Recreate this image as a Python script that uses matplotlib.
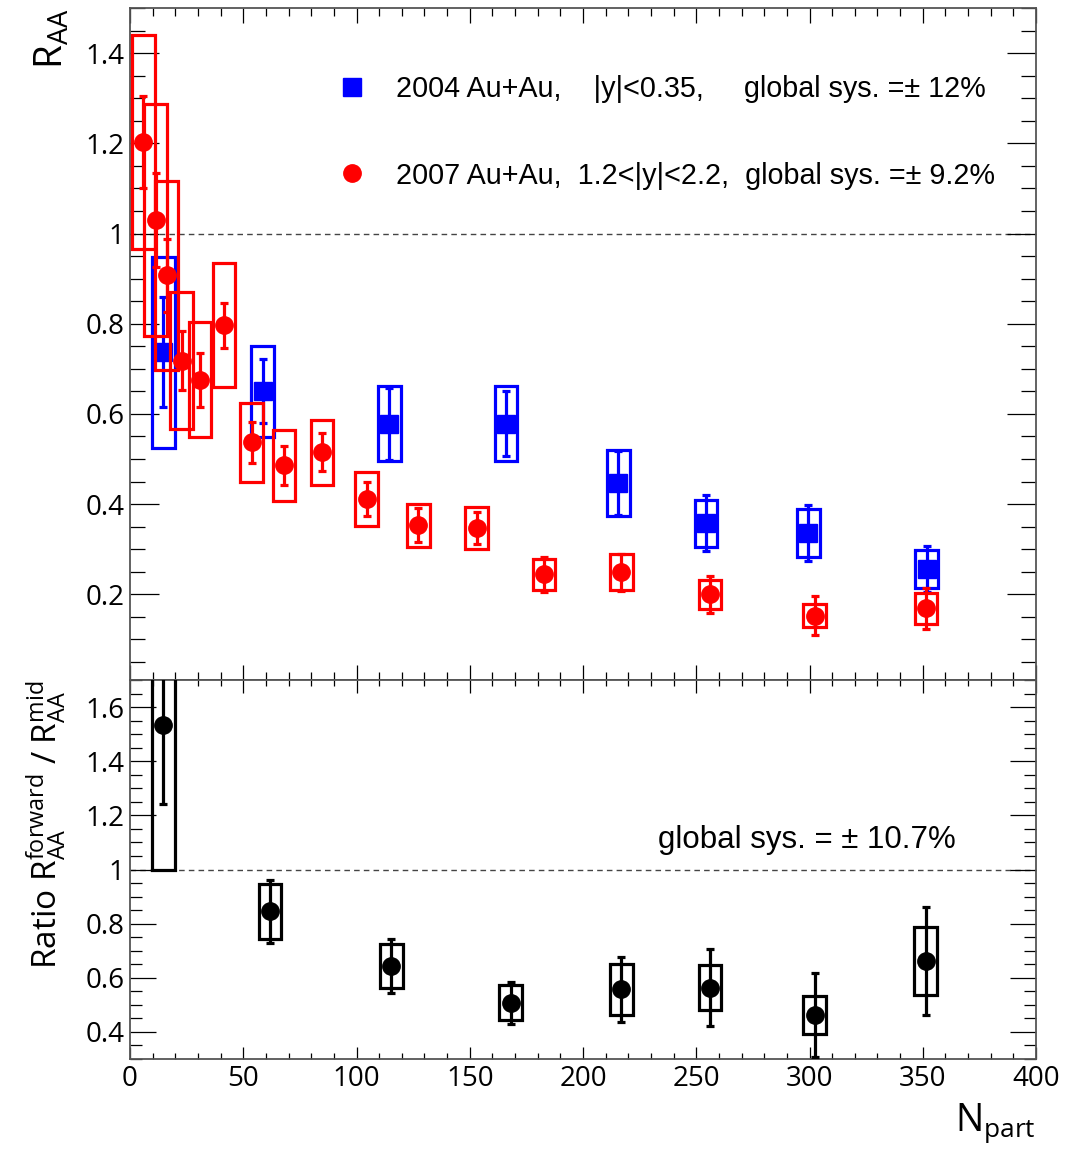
import matplotlib
matplotlib.use("Agg")
import matplotlib.pyplot as plt
from matplotlib.ticker import MultipleLocator

# ---- data -------------------------------------------------------------
# 2007 Au+Au, forward rapidity 1.2<|y|<2.2
red_npart = [5.9, 11.3, 16.2, 22.8, 30.9, 41.5, 53.7, 68.0, 84.8, 104.5,
             127.3, 153.0, 182.8, 216.9, 256.0, 302.3, 351.4]
red_raa = [1.203, 1.030, 0.907, 0.718, 0.676, 0.797, 0.537, 0.486, 0.515,
           0.411, 0.353, 0.347, 0.244, 0.249, 0.200, 0.153, 0.169]
red_stat = [0.103, 0.105, 0.081, 0.065, 0.060, 0.050, 0.045, 0.043, 0.042,
            0.037, 0.038, 0.035, 0.038, 0.041, 0.041, 0.044, 0.045]
red_sys = [0.237, 0.258, 0.209, 0.152, 0.127, 0.138, 0.087, 0.078, 0.072,
           0.060, 0.047, 0.046, 0.035, 0.040, 0.032, 0.025, 0.034]

# 2004 Au+Au, mid rapidity |y|<0.35
blue_npart = [14.7, 58.6, 114.5, 166.0, 215.6, 254.3, 299.5, 351.7]
blue_raa = [0.737, 0.650, 0.578, 0.578, 0.447, 0.358, 0.336, 0.256]
blue_stat = [0.122, 0.071, 0.080, 0.072, 0.070, 0.062, 0.062, 0.051]
blue_sys = [0.212, 0.101, 0.083, 0.083, 0.073, 0.052, 0.053, 0.042]

# forward / mid ratio
ratio_npart = [14.7, 61.8, 115.4, 168.0, 216.9, 256.0, 302.3, 351.3]
ratio = [1.533, 0.845, 0.644, 0.508, 0.557, 0.564, 0.461, 0.662]
ratio_stat = [0.290, 0.116, 0.101, 0.077, 0.119, 0.143, 0.155, 0.200]
ratio_sys = [0.533, 0.100, 0.081, 0.064, 0.095, 0.083, 0.070, 0.127]

label_mid = "2004 Au+Au,    |y|<0.35,     global sys. =\u00b1 12%"
label_fwd = "2007 Au+Au,  1.2<|y|<2.2,  global sys. =\u00b1 9.2%"
label_ratio_sys = "global sys. = \u00b1 10.7%"

BOX_HALF = 5.0  # half width of systematic boxes in Npart units

plt.rcParams["font.family"] = ["Open Sans", "DejaVu Sans"]
plt.rcParams["mathtext.default"] = "regular"

fig = plt.figure(figsize=(10.65, 11.51), dpi=100)
ax1 = fig.add_axes([0.1221, 0.4092, 0.8507, 0.5838])
ax2 = fig.add_axes([0.1221, 0.0799, 0.8507, 0.3293], sharex=ax1)


def sys_boxes(ax, x, y, s, color, z):
    bottoms = [yy - ss for yy, ss in zip(y, s)]
    heights = [2 * ss for ss in s]
    ax.bar(x, heights, width=2 * BOX_HALF, bottom=bottoms, fill=False,
           edgecolor=color, linewidth=2.3, zorder=z)


def points(ax, x, y, e, color, marker, z):
    cont = ax.errorbar(x, y, yerr=e, fmt=marker, color=color, ms=12.5,
                       mec=color, elinewidth=2.3, capsize=2.6, capthick=2.3,
                       zorder=z)
    return cont[0]


# ---- top panel: R_AA ------------------------------------------------
sys_boxes(ax1, blue_npart, blue_raa, blue_sys, "#0000ff", 3)
h_mid = points(ax1, blue_npart, blue_raa, blue_stat, "#0000ff", "s", 4)
sys_boxes(ax1, red_npart, red_raa, red_sys, "#ff0000", 5)
h_fwd = points(ax1, red_npart, red_raa, red_stat, "#ff0000", "o", 6)
ax1.axhline(1.0, color="#444444", lw=1.0, ls=(0, (4, 3)), zorder=1)

ax1.set_xlim(0, 400)
ax1.set_ylim(0.01, 1.5)
ax1.yaxis.set_minor_locator(MultipleLocator(0.05))
ax1.xaxis.set_major_locator(MultipleLocator(50))
ax1.xaxis.set_minor_locator(MultipleLocator(10))
ax1.set_yticks([0.2, 0.4, 0.6, 0.8, 1.0, 1.2, 1.4])
ax1.set_yticklabels(["0.2", "0.4", "0.6", "0.8", "1", "1.2", "1.4"])
ax1.tick_params(axis="x", labelbottom=False)

leg = ax1.legend([h_mid, h_fwd], [label_mid, label_fwd],
                 loc="upper left", bbox_to_anchor=(0.2296, 0.901),
                 frameon=False, borderpad=0, borderaxespad=0,
                 handlelength=1.0, handletextpad=1.0, labelspacing=2.05,
                 prop={"family": "Liberation Sans", "size": 20.7})

ax1.set_ylabel(r"$\mathregular{R_{AA}}$", fontsize=28, loc="top")
ax1.yaxis.set_label_coords(-0.064, 1.0)

# ---- bottom panel: ratio ---------------------------------------------
sys_boxes(ax2, ratio_npart, ratio, ratio_sys, "black", 3)
points(ax2, ratio_npart, ratio, ratio_stat, "black", "o", 4)
ax2.axhline(1.0, color="#444444", lw=1.0, ls=(0, (4, 3)), zorder=1)

ax2.set_ylim(0.3, 1.7)
ax2.set_yticks([0.4, 0.6, 0.8, 1.0, 1.2, 1.4, 1.6])
ax2.set_yticklabels(["0.4", "0.6", "0.8", "1", "1.2", "1.4", "1.6"])
ax2.yaxis.set_minor_locator(MultipleLocator(0.05))
ax2.set_xticks([0, 50, 100, 150, 200, 250, 300, 350, 400])
ax2.set_xticklabels(["0", "50", "100", "150", "200", "250", "300", "350", "400"])

ax2.text(0.583, 0.578, label_ratio_sys, transform=ax2.transAxes,
         fontsize=22.5, va="center", ha="left", family="Liberation Sans")

ax2.set_ylabel(r"Ratio $\mathregular{R^{forward}_{AA}}$ / $\mathregular{R^{mid}_{AA}}$",
               fontsize=24, loc="top")
ax2.yaxis.set_label_coords(-0.068, 1.0)
ax2.set_xlabel(r"$\mathregular{N_{part}}$", fontsize=27, loc="right")
ax2.xaxis.set_label_coords(1.0, -0.112)

# ---- frame and tick styling ------------------------------------------
for ax, ylen in ((ax1, (21, 10.5)), (ax2, (18.5, 8.6))):
    for sp in ax.spines.values():
        sp.set_color("#555555")
        sp.set_linewidth(1.3)
    ax.tick_params(which="both", direction="in", top=True, right=True,
                   width=0.9, color="black", labelsize=20)
    ax.tick_params(axis="y", which="major", length=ylen[0], pad=4)
    ax.tick_params(axis="y", which="minor", length=ylen[1])
ax1.tick_params(axis="x", which="major", length=11)
ax1.tick_params(axis="x", which="minor", length=6)
ax2.tick_params(axis="x", which="major", length=9, pad=4)
ax2.tick_params(axis="x", which="minor", length=4.5)

fig.savefig("out.png", dpi=100)
